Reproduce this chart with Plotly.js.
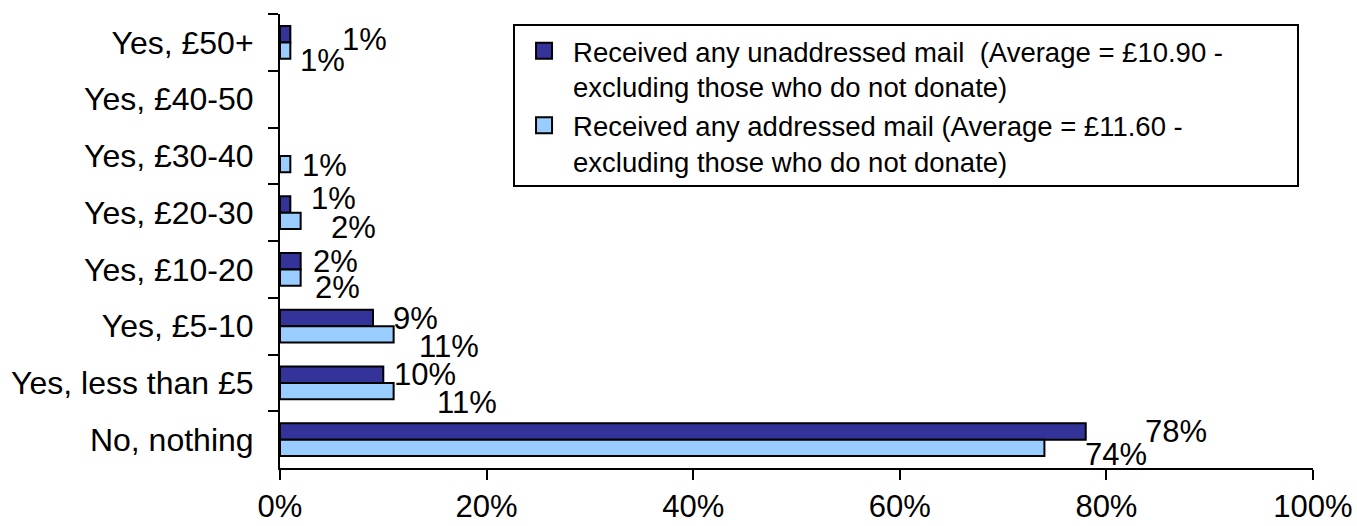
<!DOCTYPE html>
<html>
<head>
<meta charset="utf-8">
<script src="https://cdn.plot.ly/plotly-3.0.1.min.js"></script>
<style>
html, body { margin: 0; padding: 0; background: #ffffff; }
#chart { width: 1357px; height: 526px; }
</style>
</head>
<body>
<div id="chart"></div>
<script>
// Categories, top to bottom
const categories = ["Yes, £50+", "Yes, £40-50", "Yes, £30-40", "Yes, £20-30", "Yes, £10-20", "Yes, £5-10", "Yes, less than £5", "No, nothing"];
const unaddressed = [1, 0, 0, 1, 2, 9, 10, 78];
const addressed = [1, 0, 1, 2, 2, 11, 11, 74];
const seriesNames = [
  "Received any unaddressed mail\u00a0 (Average = £10.90 -<br>excluding those who do not donate)",
  "Received any addressed mail (Average = £11.60 -<br>excluding those who do not donate)"
];
const xTickVals = [0, 20, 40, 60, 80, 100];
const xTickText = ["0%", "20%", "40%", "60%", "80%", "100%"];

// label offsets (px) from bar end / category centre, as placed in the original
const darkDx = [74, 0, 0, 43, 35, 43, 42, 90];
const darkDy = [-3, 0, 0, -14, -8, -8, -8, -8];
const lightDx = [32, 0, 34, 53, 37, 55, 73, 72];
const lightDy = [18, 0, 10, 15, 18, 20, 20, 15];

const FONT = "Liberation Sans, Arial, sans-serif";
const darkColor = "#333399";
const lightColor = "#99CCFF";
// invisible padding so the legend box is as wide as the original frame
const legendPad = "\u00a0".repeat(9);

function outline(vals) { return vals.map(v => (v > 0 ? 2 : 0)); }

const traces = [
  {
    type: "bar", orientation: "h", name: seriesNames[0],
    y: categories, x: unaddressed, showlegend: false,
    marker: { color: darkColor, line: { color: "#000000", width: outline(unaddressed) } },
    hoverinfo: "skip"
  },
  {
    type: "bar", orientation: "h", name: seriesNames[1],
    y: categories, x: addressed, showlegend: false,
    marker: { color: lightColor, line: { color: "#000000", width: outline(addressed) } },
    hoverinfo: "skip"
  },
  // legend entries (larger square swatches)
  {
    type: "scatter", mode: "markers", name: seriesNames[0].replace("<br>", legendPad + "<br>"),
    x: [null], y: [null], showlegend: true, hoverinfo: "skip",
    marker: { symbol: "square", size: 16, color: darkColor, line: { color: "#000000", width: 2 } }
  },
  {
    type: "scatter", mode: "markers", name: seriesNames[1],
    x: [null], y: [null], showlegend: true, hoverinfo: "skip",
    marker: { symbol: "square", size: 16, color: lightColor, line: { color: "#000000", width: 2 } }
  }
];

const annotations = [];
function addLabels(vals, dx, dy) {
  vals.forEach((v, i) => {
    if (v > 0) {
      annotations.push({
        x: v, y: categories[i], xref: "x", yref: "y",
        text: v + "%", showarrow: false,
        xanchor: "center", yanchor: "middle",
        xshift: dx[i], yshift: -dy[i],
        font: { family: FONT, size: 31, color: "#000000" }
      });
    }
  });
}
addLabels(unaddressed, darkDx, darkDy);
addLabels(addressed, lightDx, lightDy);

const layout = {
  width: 1357, height: 526,
  paper_bgcolor: "#ffffff", plot_bgcolor: "#ffffff",
  margin: { l: 280, r: 44, t: 14, b: 58, pad: 0 },
  font: { family: FONT, size: 31, color: "#000000" },
  barmode: "group",
  bargap: 0.42,
  bargroupgap: 0,
  showlegend: true,
  legend: {
    x: 0.2256, y: 0.977, xanchor: "left", yanchor: "top",
    bgcolor: "#ffffff", bordercolor: "#000000", borderwidth: 2,
    font: { family: FONT, size: 27.5, color: "#000000" },
    traceorder: "normal", valign: "top", itemwidth: 48,
    itemsizing: "trace",
    tracegroupgap: 0
  },
  xaxis: {
    range: [0, 100],
    tickvals: xTickVals, ticktext: xTickText,
    showgrid: false, zeroline: false,
    showline: true, linecolor: "#000000", linewidth: 2,
    ticks: "outside", ticklen: 10, tickwidth: 2, tickcolor: "#000000",
    tickfont: { family: FONT, size: 31, color: "#000000" },
    fixedrange: true
  },
  yaxis: {
    type: "category",
    categoryorder: "array", categoryarray: categories,
    range: [7.5, -0.5],
    showgrid: false, zeroline: false,
    showline: true, linecolor: "#000000", linewidth: 2,
    ticks: "outside", ticklen: 10, tickwidth: 2, tickcolor: "#000000",
    tickson: "boundaries",
    ticklabelstandoff: 18,
    tickfont: { family: FONT, size: 32, color: "#000000" },
    fixedrange: true
  },
  annotations: annotations
};

Plotly.newPlot("chart", traces, layout, { displayModeBar: false, staticPlot: true });
</script>
</body>
</html>
